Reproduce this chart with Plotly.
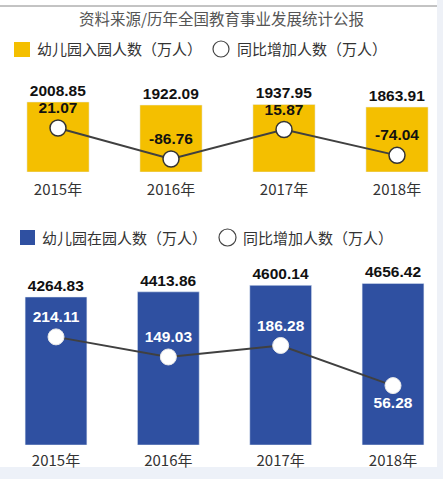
import plotly.graph_objects as go

W, H = 443, 479

years = ["2015年", "2016年", "2017年", "2018年"]
enroll_new = [2008.85, 1922.09, 1937.95, 1863.91]
enroll_new_change = [21.07, -86.76, 15.87, -74.04]
in_school = [4264.83, 4413.86, 4600.14, 4656.42]
in_school_change = [214.11, 149.03, 186.28, 56.28]

title_text = "资料来源/历年全国教育事业发展统计公报"
legend_top = ["幼儿园入园人数（万人）", "同比增加人数（万人）"]
legend_bot = ["幼儿园在园人数（万人）", "同比增加人数（万人）"]

YELLOW = "#F4BF00"
BLUE = "#2F50A1"
LINE = "#404040"
CJK = "Noto Sans CJK SC"
NUM = "Liberation Sans, Arial, sans-serif"
NUMSIZE = 15.5


def px_x(p):
    return p / W


def px_y(p):
    return 1 - p / H


fig = go.Figure()

# top section
fig.add_trace(go.Bar(x=years, y=enroll_new, marker_color=YELLOW, width=0.55,
                     xaxis="x", yaxis="y", showlegend=False,
                     text=[f"{v:.2f}" for v in enroll_new], textposition="outside",
                     constraintext="none",
                     textfont=dict(family=NUM, size=NUMSIZE, color="#111", weight="bold"),
                     cliponaxis=False))
fig.add_trace(go.Scatter(x=years, y=enroll_new_change, mode="lines+markers+text",
                         xaxis="x", yaxis="y2", showlegend=False,
                         line=dict(color=LINE, width=2),
                         marker=dict(size=16, color="white", line=dict(color="#333", width=1.5)),
                         text=[f"{v:.2f}" for v in enroll_new_change], textposition="top center",
                         textfont=dict(family=NUM, size=NUMSIZE, color="#111", weight="bold"),
                         cliponaxis=False))

# bottom section
fig.add_trace(go.Bar(x=years, y=in_school, marker_color=BLUE, width=0.55,
                     xaxis="x3", yaxis="y3", showlegend=False,
                     text=[f"{v:.2f}" for v in in_school], textposition="outside",
                     constraintext="none",
                     textfont=dict(family=NUM, size=NUMSIZE, color="#111", weight="bold"),
                     cliponaxis=False))
fig.add_trace(go.Scatter(x=years, y=in_school_change, mode="lines+markers+text",
                         xaxis="x3", yaxis="y4", showlegend=False,
                         line=dict(color=LINE, width=2),
                         marker=dict(size=16, color="white", line=dict(color="#e8e8e8", width=1)),
                         text=[f"{v:.2f}" for v in in_school_change],
                         textposition=["top center", "top center", "top center", "bottom center"],
                         textfont=dict(family=NUM, size=NUMSIZE, color="white", weight="bold"),
                         cliponaxis=False))

# axis geometry (pixel-derived)
top_bot, top_top = 172, 80
bot_bot, bot_top = 445, 265

xcommon = dict(type="category", showgrid=False, zeroline=False, showline=False,
               ticks="", tickfont=dict(family=CJK, size=15, color="#333"),
               fixedrange=True)
ycommon = dict(showgrid=False, zeroline=False, showline=False, showticklabels=False,
               ticks="", fixedrange=True)

fig.update_layout(
    width=W, height=H, margin=dict(l=0, r=0, t=0, b=0),
    paper_bgcolor="white", plot_bgcolor="rgba(0,0,0,0)",
    xaxis=dict(xcommon, domain=[0, 1], range=[-0.5133, 3.407], anchor="y",
               ticklabelstandoff=7),
    yaxis=dict(ycommon, domain=[px_y(top_bot), px_y(top_top)], range=[0, 2640]),
    yaxis2=dict(ycommon, domain=[px_y(top_bot), px_y(top_top)], range=[-131.97, 188.03],
                overlaying="y", anchor="x"),
    xaxis3=dict(xcommon, domain=[0, 1], range=[-0.4985, 3.445], anchor="y3",
                ticklabelstandoff=5),
    yaxis3=dict(ycommon, domain=[px_y(bot_bot), px_y(bot_top)], range=[0, 5187]),
    yaxis4=dict(ycommon, domain=[px_y(bot_bot), px_y(bot_top)], range=[-136.1, 447.0],
                overlaying="y3", anchor="x3"),
)

shapes = [
    dict(type="rect", xref="paper", yref="paper", x0=px_x(437), x1=1, y0=0, y1=1,
         fillcolor="#EEF1F7", line_width=0, layer="below"),
    dict(type="rect", xref="paper", yref="paper", x0=0, x1=1, y0=0, y1=px_y(467),
         fillcolor="#EDF1F8", line_width=0, layer="below"),
    dict(type="line", xref="paper", yref="paper", x0=0, x1=px_x(437), y0=px_y(6), y1=px_y(6),
         line=dict(color="#888", width=1)),
    dict(type="rect", xref="paper", yref="paper", x0=px_x(14), x1=px_x(30),
         y0=px_y(57), y1=px_y(42), fillcolor=YELLOW, line_width=0),
    dict(type="circle", xref="paper", yref="paper", x0=px_x(213), x1=px_x(229),
         y0=px_y(57), y1=px_y(41), fillcolor="white", line=dict(color="#444", width=1.2)),
    dict(type="rect", xref="paper", yref="paper", x0=px_x(20), x1=px_x(35),
         y0=px_y(245), y1=px_y(230), fillcolor=BLUE, line_width=0),
    dict(type="circle", xref="paper", yref="paper", x0=px_x(219), x1=px_x(236),
         y0=px_y(246), y1=px_y(229), fillcolor="white", line=dict(color="#444", width=1.2)),
]

ann = [
    dict(text=title_text, x=px_x(221), y=px_y(18), xref="paper", yref="paper",
         showarrow=False, xanchor="center", yanchor="middle",
         font=dict(family=CJK, size=15.5, color="#555")),
    dict(text=legend_top[0], x=px_x(35), y=px_y(49), xref="paper", yref="paper",
         showarrow=False, xanchor="left", yanchor="middle",
         font=dict(family=CJK, size=15, color="#333")),
    dict(text=legend_top[1], x=px_x(235), y=px_y(49), xref="paper", yref="paper",
         showarrow=False, xanchor="left", yanchor="middle",
         font=dict(family=CJK, size=15, color="#333")),
    dict(text=legend_bot[0], x=px_x(40), y=px_y(237), xref="paper", yref="paper",
         showarrow=False, xanchor="left", yanchor="middle",
         font=dict(family=CJK, size=15, color="#333")),
    dict(text=legend_bot[1], x=px_x(241), y=px_y(237), xref="paper", yref="paper",
         showarrow=False, xanchor="left", yanchor="middle",
         font=dict(family=CJK, size=15, color="#333")),
]

fig.update_layout(shapes=shapes, annotations=ann)

fig.write_html("out.html", config={"displayModeBar": False},
               post_script="document.body.style.margin='0';document.body.style.overflow='hidden';")
